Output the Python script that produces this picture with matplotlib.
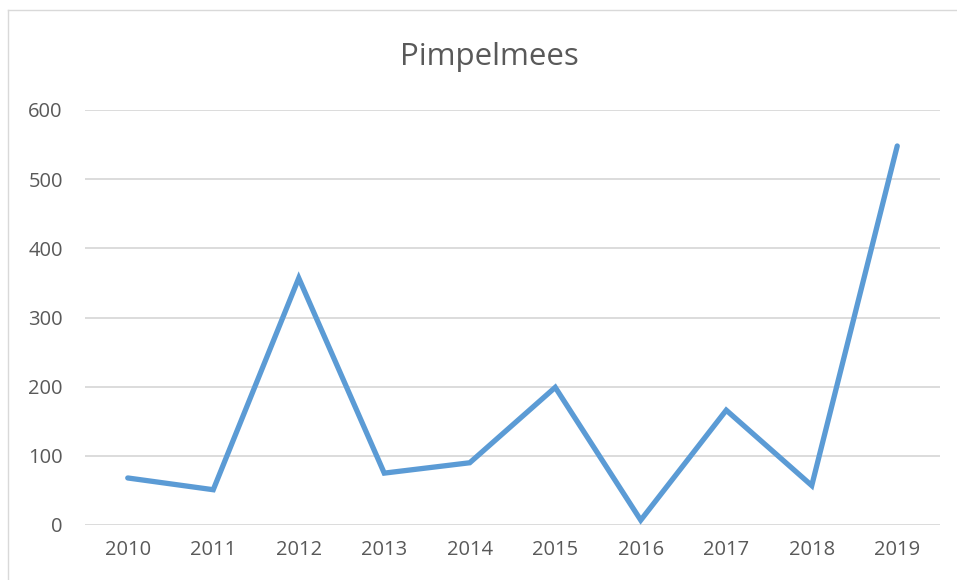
import matplotlib
matplotlib.use("Agg")
import matplotlib.pyplot as plt
from matplotlib.lines import Line2D

years = ["2010", "2011", "2012", "2013", "2014", "2015", "2016", "2017", "2018", "2019"]
counts = [68, 51, 357, 75, 90, 199, 7, 166, 57, 548]
yticks = [0, 100, 200, 300, 400, 500, 600]

W, H = 957, 580
TXT = "#595959"
GRID = "#d9d9d9"
BLUE = "#5b9bd5"

plt.rcParams["font.family"] = ["Open Sans", "DejaVu Sans"]

fig = plt.figure(figsize=(W / 100, H / 100), dpi=100)
ax = fig.add_axes([85 / W, 1 - 525 / H, (940 - 85) / W, (525 - 110) / H])

x = list(range(len(years)))
ax.plot(x, counts, color=BLUE, lw=3.8, solid_joinstyle="miter", solid_capstyle="round", zorder=3)

ax.set_xlim(-0.5, len(years) - 0.5)
ax.set_ylim(0, 600)
ax.set_yticks(yticks)
ax.set_yticklabels([str(v) for v in yticks])
ax.set_xticks(x)
ax.set_xticklabels(years)
ax.grid(axis="y", color=GRID, lw=1.3)
ax.set_axisbelow(True)
for s in ax.spines.values():
    s.set_visible(False)
ax.tick_params(length=0, colors=TXT, labelsize=14.5)
ax.tick_params(axis="y", pad=16)
ax.tick_params(axis="x", pad=11)

fig.text(489 / W, 1 - 57 / H, "Pimpelmees", ha="center", va="center", fontsize=22.5, color=TXT)

# chart-area border
fig.add_artist(Line2D([8 / W, 8 / W], [0, 1 - 10 / H], color=GRID, lw=1))
fig.add_artist(Line2D([8 / W, 1], [1 - 10 / H, 1 - 10 / H], color=GRID, lw=1))

fig.savefig("out.png", dpi=100)
